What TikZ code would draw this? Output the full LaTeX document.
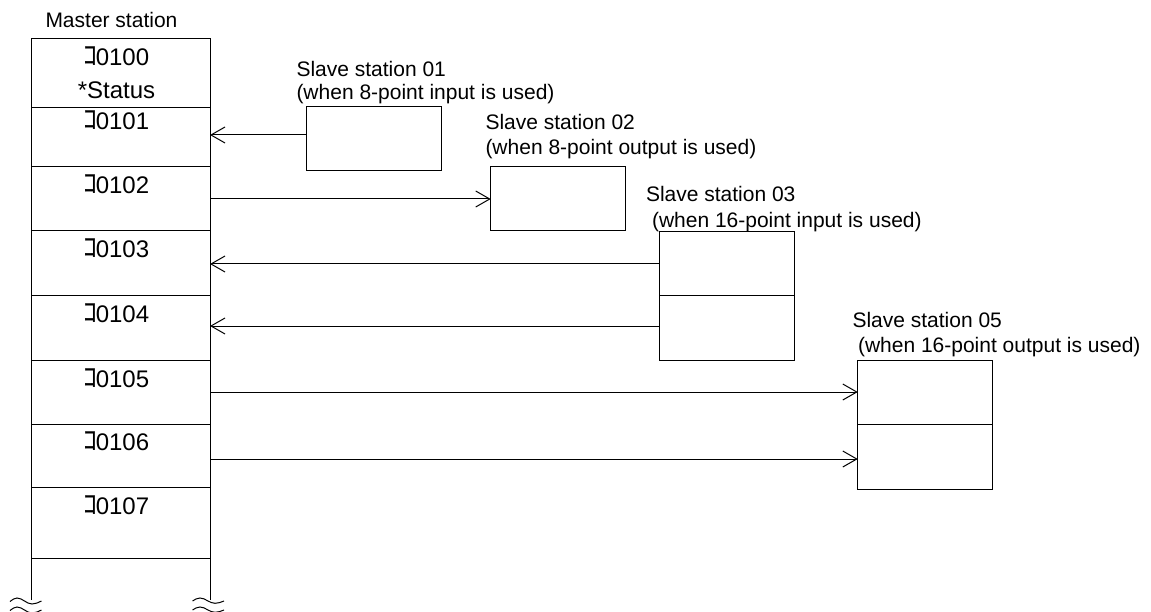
\documentclass[tikz,border=0pt]{standalone}
\usepackage{fontspec}
\setmainfont{Liberation Sans}
\newfontfamily\jpfont{Noto Sans CJK JP}
\usetikzlibrary{arrows.meta}
\newcommand{\kochar}{{\fontsize{28}{28}\jpfont ｺ}\kern-2pt}
\begin{document}
\begin{tikzpicture}[x=1pt,y=-1pt,line width=1pt,
  cell/.style={draw,minimum width=179pt,inner sep=0pt,outer sep=0pt},
  sbox/.style={draw,minimum width=135pt,inner sep=0pt,outer sep=0pt},
  lab/.style={anchor=base west,inner sep=0pt,font=\fontsize{21}{24}\selectfont},
  mtxt/.style={anchor=base,inner sep=0pt,font=\fontsize{24}{28}\selectfont},
  arr/.style={-{Straight Barb[length=14pt,width=16pt]}},
  wave/.style={line width=1pt}]
\useasboundingbox (0,0) rectangle (1151,612);
% master station cells
\node[cell,minimum height=69pt] (m0) at (120.5,73.5) {};
\node[cell,minimum height=59pt] (m1) at (120.5,137.5) {};
\node[cell,minimum height=64pt] (m2) at (120.5,199) {};
\node[cell,minimum height=65pt] (m3) at (120.5,263.5) {};
\node[cell,minimum height=64pt] (m4) at (120.5,328) {};
\node[cell,minimum height=64pt] (m5) at (120.5,392) {};
\node[cell,minimum height=63pt] (m6) at (120.5,455.5) {};
\node[cell,minimum height=71pt] (m7) at (120.5,522.5) {};
\draw (m7.south west) -- ++(0,42);
\draw (m7.south east) -- ++(0,42);
% break marks
\draw[wave] (10,601.5) sin (17,598) cos (24.5,601) sin (32,604) cos (41.5,601);
\draw[wave] (10,610.5) sin (17,607) cos (24.5,610) sin (32,613) cos (41.5,610);
\draw[wave] (192.5,601) sin (200,598) cos (207.5,600.7) sin (215,603.3) cos (224,601);
\draw[wave] (192.5,610) sin (200,607) cos (207.5,609.7) sin (215,612.3) cos (224,610);
% master texts
\node[anchor=base west,inner sep=0pt,font=\fontsize{21}{24}\selectfont] (mt) at (45,28) {Master station};
\node[mtxt] (t0) at (116.5,66) {\kochar0100};
\node[mtxt] (ts) at (116.5,99) {*Status};
\node[mtxt] (t1) at (116.5,130) {\kochar0101};
\node[mtxt] (t2) at (116.5,194) {\kochar0102};
\node[mtxt] (t3) at (116.5,258) {\kochar0103};
\node[mtxt] (t4) at (116.5,323) {\kochar0104};
\node[mtxt] (t5) at (116.5,387) {\kochar0105};
\node[mtxt] (t6) at (116.5,450) {\kochar0106};
\node[mtxt] (t7) at (116.5,514) {\kochar0107};
% slave boxes
\node[sbox,minimum height=64pt] (s1) at (374.2,139) {};
\node[sbox,minimum height=64pt] (s2) at (558.2,198.5) {};
\node[sbox,minimum height=64pt] (s3a) at (726.5,264) {};
\node[sbox,minimum height=64pt] (s3b) at (726.5,328) {};
\node[sbox,minimum height=64pt] (s5a) at (925.3,392) {};
\node[sbox,minimum height=65pt] (s5b) at (925.3,456.5) {};
% slave labels
\node[lab] (l1a) at (296,76.5) {Slave station 01};
\node[lab] (l1b) at (296,100) {(when 8-point input is used)};
\node[lab] (l2a) at (485,130) {Slave station 02};
\node[lab] (l2b) at (485,155) {(when 8-point output is used)};
\node[lab] (l3a) at (645.5,201.5) {Slave station 03};
\node[lab] (l3b) at (651.5,228) {(when 16-point input is used)};
\node[lab] (l5a) at (852,327) {Slave station 05};
\node[lab] (l5b) at (857.5,352) {(when 16-point output is used)};
% connectors
\draw[arr] ([yshift=4pt]s1.west) -- ([yshift=4pt]s1.west -| m1.east);
\draw[arr] (m2.east) -- (m2.east -| s2.west);
\draw[arr] (s3a.west) -- (s3a.west -| m3.east);
\draw[arr] ([yshift=2pt]s3b.west) -- ([yshift=2pt]s3b.west -| m4.east);
\draw[arr] (m5.east) -- (m5.east -| s5a.west);
\draw[arr] ([yshift=-3.5pt]m6.east) -- ([yshift=-3.5pt]m6.east -| s5b.west);
\end{tikzpicture}
\end{document}
